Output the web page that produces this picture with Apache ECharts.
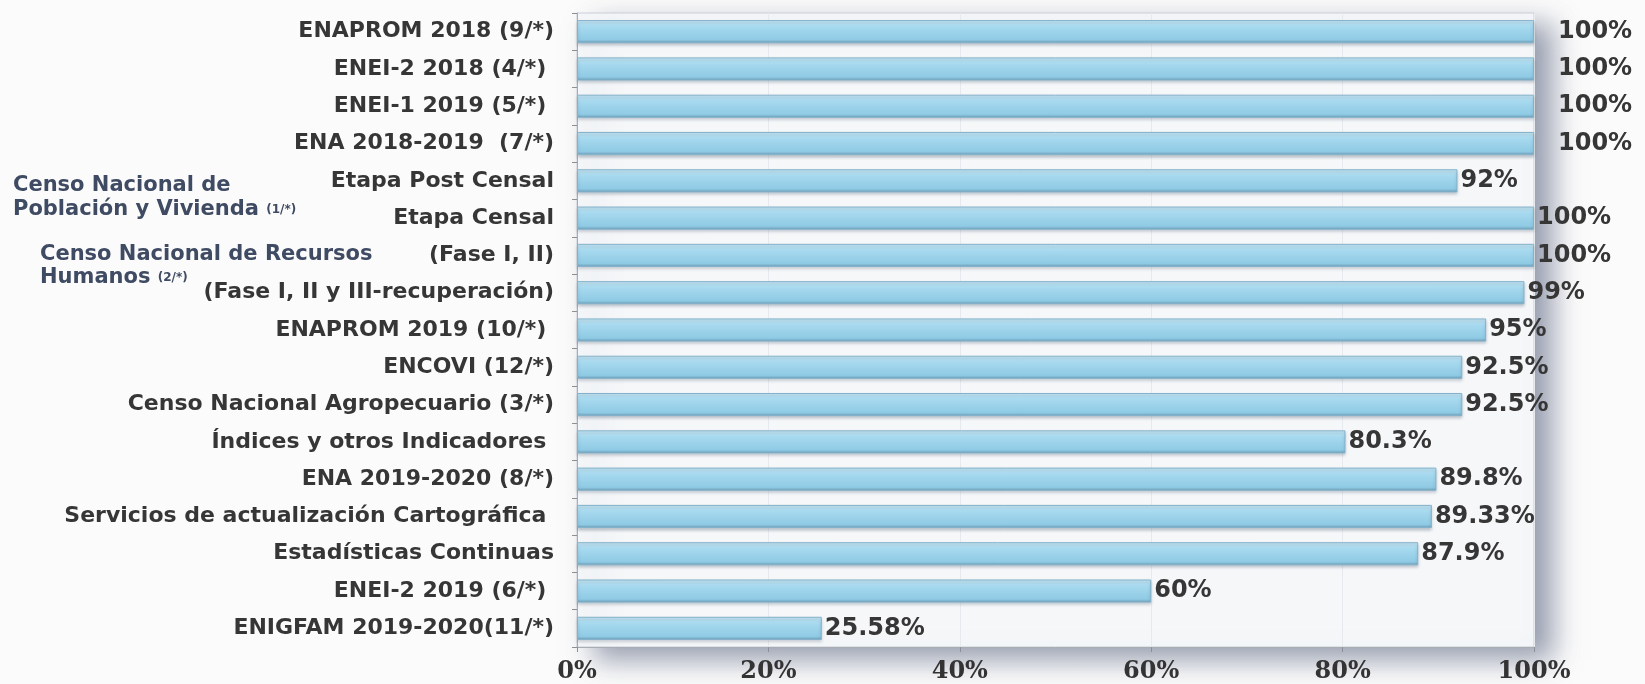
<!DOCTYPE html>
<html>
<head>
<meta charset="utf-8">
<script src="https://cdn.jsdelivr.net/npm/echarts@6/dist/echarts.min.js"></script>
<style>
  html, body { margin: 0; padding: 0; background: #fbfbfb; }
  #main { width: 1645px; height: 684px; }
</style>
</head>
<body>
<div id="main"></div>
<script>
// categorías de arriba hacia abajo
var categories = [
  'ENAPROM 2018 (9/*)',
  'ENEI-2 2018 (4/*) ',
  'ENEI-1 2019 (5/*) ',
  'ENA 2018-2019  (7/*)',
  'Etapa Post Censal',
  'Etapa Censal',
  '(Fase I, II)',
  '(Fase I, II y III-recuperación)',
  'ENAPROM 2019 (10/*) ',
  'ENCOVI (12/*)',
  'Censo Nacional Agropecuario (3/*)',
  'Índices y otros Indicadores ',
  'ENA 2019-2020 (8/*)',
  'Servicios de actualización Cartográfica ',
  'Estadísticas Continuas',
  'ENEI-2 2019 (6/*) ',
  'ENIGFAM 2019-2020(11/*)'
];
var avance = [100, 100, 100, 100, 92, 100, 100, 99, 95, 92.5, 92.5, 80.3, 89.8, 89.33, 87.9, 60, 25.58];
var xTicks = [0, 20, 40, 60, 80, 100];

var chart = echarts.init(document.getElementById('main'));

var barColor = new echarts.graphic.LinearGradient(0, 0, 0, 1, [
  { offset: 0, color: '#c6e8f6' },
  { offset: 0.3, color: '#a6d9ef' },
  { offset: 0.85, color: '#8fcae4' },
  { offset: 1, color: '#6b9bb5' }
]);

var groupRich = function (lh) {
  return {
    a: { fontFamily: 'DejaVu Sans', fontWeight: 'bold', fontSize: 21, fill: '#3f4a63', lineHeight: lh },
    b: { fontFamily: 'DejaVu Sans', fontWeight: 'bold', fontSize: 12, fill: '#3f4a63', lineHeight: lh }
  };
};

var option = {
  backgroundColor: '#fbfbfb',
  grid: {
    left: 577, right: 111, top: 13, bottom: 36,
    show: true,
    backgroundColor: '#f5f7f9',
    borderColor: '#c9ced6',
    borderWidth: 1,
    shadowColor: 'rgba(85,95,125,0.6)',
    shadowBlur: 26,
    shadowOffsetX: 18,
    shadowOffsetY: 12
  },
  xAxis: {
    type: 'value',
    min: xTicks[0],
    max: xTicks[xTicks.length - 1],
    interval: 20,
    axisLine: { show: true, lineStyle: { color: '#a8adb5' } },
    axisTick: { show: true, length: 5, lineStyle: { color: '#8a8f98' } },
    splitLine: { show: true, lineStyle: { color: '#e6eaee' } },
    axisLabel: {
      margin: 13,
      formatter: '{value}%',
      fontFamily: 'DejaVu Serif',
      fontWeight: 'bold',
      fontSize: 24,
      color: '#333'
    }
  },
  yAxis: {
    type: 'category',
    inverse: true,
    data: categories,
    axisLine: { show: true, lineStyle: { color: '#a8adb5' } },
    axisTick: { show: true, length: 5, lineStyle: { color: '#8a8f98' } },
    axisLabel: {
      margin: 23,
      fontFamily: 'DejaVu Sans',
      fontWeight: 'bold',
      fontSize: 22,
      color: '#363636'
    }
  },
  graphic: [
    {
      type: 'text', left: 13, top: 175,
      style: {
        text: '{a|Censo Nacional de}\n{a|Población y Vivienda }{b|(1/*)}',
        rich: groupRich(24)
      }
    },
    {
      type: 'text', left: 40, top: 244,
      style: {
        text: '{a|Censo Nacional de Recursos}\n{a|Humanos }{b|(2/*)}',
        rich: groupRich(23)
      }
    }
  ],
  series: [{
    type: 'bar',
    barWidth: '62%',
    data: avance.map(function (v, i) {
      // las cuatro primeras etiquetas van más separadas de la barra
      return i < 4 ? { value: v, label: { distance: 24 } } : v;
    }),
    itemStyle: {
      color: barColor,
      borderColor: '#84b2ca',
      borderWidth: 1,
      shadowColor: 'rgba(60,80,100,0.3)',
      shadowBlur: 3,
      shadowOffsetY: 2
    },
    label: {
      show: true,
      position: 'right',
      distance: 3,
      formatter: '{c}%',
      fontFamily: 'DejaVu Sans',
      fontWeight: 'bold',
      fontSize: 24,
      color: '#363636'
    }
  }]
};

chart.setOption(option);
</script>
</body>
</html>
